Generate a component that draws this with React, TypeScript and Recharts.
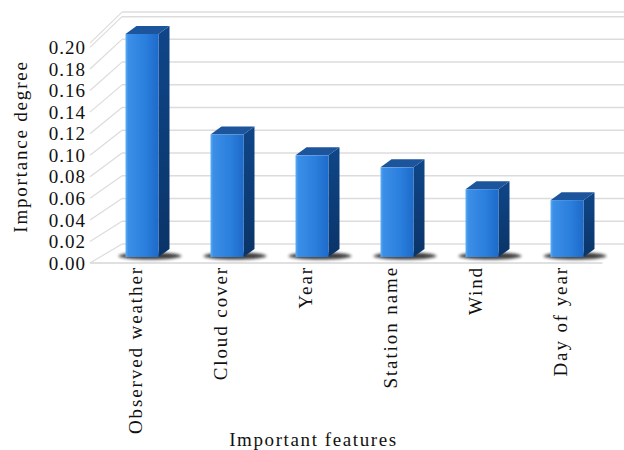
import { BarChart, Bar, XAxis, YAxis, CartesianGrid, Label } from 'recharts'

const features = ['Observed weather', 'Cloud cover', 'Year', 'Station name', 'Wind', 'Day of year']
const importance = [0.204, 0.112, 0.093, 0.082, 0.062, 0.052]
const yTicks = [0, 0.02, 0.04, 0.06, 0.08, 0.1, 0.12, 0.14, 0.16, 0.18, 0.2]

const data = features.map((name, i) => ({ name, value: importance[i] }))

const FONT = "'Liberation Serif'"
const PLOT_BOTTOM = 257
const DEPTH_X = 11
const DEPTH_Y = 8

// fake 3d wall: front edge on the left, back wall shifted up/right
function GridLine(props: any) {
  const { x1, x2, y1 } = props
  const up = PLOT_BOTTOM - y1
  const yFront = y1 + 6 + up * 0.014
  const yBack = y1 - 13 - up * 0.04
  const isFloor = Math.abs(up) < 1
  return (
    <g key={props.key}>
      <line x1={x1 - 2.5} y1={yFront} x2={x1 + 29.5} y2={yBack} stroke="#dcdcdc" strokeWidth={1.2} />
      <line x1={x1 + 29.5} y1={yBack} x2={x2 + 22} y2={yBack} stroke="#dcdcdc" strokeWidth={1.5} />
      {isFloor && (
        <line x1={x1 - 2.5} y1={yFront} x2={x2} y2={yFront} stroke="#d6d6d6" strokeWidth={1.5} />
      )}
    </g>
  )
}

function Box3D(props: any) {
  const { x, y, width, height } = props
  const fx = x + 7
  const w = width
  const by = y + height
  return (
    <g>
      <ellipse cx={fx + w / 2 + 8} cy={by - 1} rx={w / 2 + 15} ry={3.5} fill="#1a1a1a" opacity={0.85} filter="url(#shadowBlur)" />
      <polygon
        points={`${fx + w},${y} ${fx + w + DEPTH_X},${y - DEPTH_Y} ${fx + w + DEPTH_X},${by - DEPTH_Y} ${fx + w},${by}`}
        fill="url(#sideGrad)"
      />
      <polygon
        points={`${fx},${y} ${fx + DEPTH_X},${y - DEPTH_Y} ${fx + w + DEPTH_X},${y - DEPTH_Y} ${fx + w},${y}`}
        fill="#1c559c"
      />
      <rect x={fx} y={y} width={w} height={height} fill="url(#frontGrad)" />
    </g>
  )
}

function YTick(props: any) {
  const { x, y, payload } = props
  const up = PLOT_BOTTOM - y
  return (
    <text
      x={x - 6.5}
      y={y + 6 + up * 0.014}
      dy="0.35em"
      textAnchor="end"
      style={{ fontFamily: FONT }}
      fontSize={19}
      letterSpacing={1}
      fill="#111"
    >
      {payload.value.toFixed(2)}
    </text>
  )
}

function XTick(props: any) {
  const { x, y, payload } = props
  const ty = y + 9
  return (
    <text
      x={x}
      y={ty}
      dy="0.35em"
      transform={`rotate(-90, ${x}, ${ty})`}
      textAnchor="end"
      style={{ fontFamily: FONT }}
      fontSize={19}
      letterSpacing={1.9}
      fill="#111"
    >
      {payload.value}
    </text>
  )
}

export default function App() {
  return (
    <div style={{ position: 'absolute', left: 0, top: 0, background: '#fff' }}>
      <BarChart
        width={624}
        height={450}
        data={data}
        margin={{ top: 34, right: 21.5, bottom: 0, left: 0 }}
        barCategoryGap={0}
      >
        <defs>
          <linearGradient id="frontGrad" x1="0" y1="0" x2="1" y2="0">
            <stop offset="0" stopColor="#5fb0f7" />
            <stop offset="0.08" stopColor="#3b8fe7" />
            <stop offset="0.6" stopColor="#2b7fdd" />
            <stop offset="1" stopColor="#1d6ac9" />
          </linearGradient>
          <linearGradient id="sideGrad" x1="0" y1="0" x2="0" y2="1">
            <stop offset="0" stopColor="#0f4688" />
            <stop offset="1" stopColor="#0a3468" />
          </linearGradient>
          <filter id="shadowBlur" x="-20%" y="-200%" width="140%" height="500%">
            <feGaussianBlur stdDeviation="1.6" />
          </filter>
        </defs>
        <CartesianGrid vertical={false} horizontal={GridLine} />
        <XAxis
          dataKey="name"
          height={193}
          axisLine={false}
          tickLine={false}
          tickSize={0}
          tickMargin={0}
          interval={0}
          tick={XTick}
        >
          <Label
            content={(p: any) => {
              const vb = p.viewBox
              return (
                <text
                  x={vb.x + vb.width / 2 - 34}
                  y={vb.y + vb.height - 4}
                  textAnchor="middle"
                  style={{ fontFamily: FONT }}
                  fontSize={19}
                  letterSpacing={1.6}
                  fill="#111"
                >
                  Important features
                </text>
              )
            }}
          />
        </XAxis>
        <YAxis
          width={92.5}
          domain={[0, 0.2]}
          ticks={yTicks}
          interval={0}
          axisLine={false}
          tickLine={false}
          tickSize={0}
          tickMargin={0}
          tick={YTick}
        >
          <Label
            content={(p: any) => {
              const vb = p.viewBox
              const cx = vb.x + 20
              const cy = vb.y + vb.height / 2 + 1
              return (
                <text
                  x={cx}
                  y={cy}
                  dy="0.35em"
                  transform={`rotate(-90, ${cx}, ${cy})`}
                  textAnchor="middle"
                  style={{ fontFamily: FONT }}
                  fontSize={19}
                  letterSpacing={1.8}
                  fill="#111"
                >
                  Importance degree
                </text>
              )
            }}
          />
        </YAxis>
        <Bar dataKey="value" barSize={33} shape={Box3D} isAnimationActive={false} />
      </BarChart>
    </div>
  )
}
